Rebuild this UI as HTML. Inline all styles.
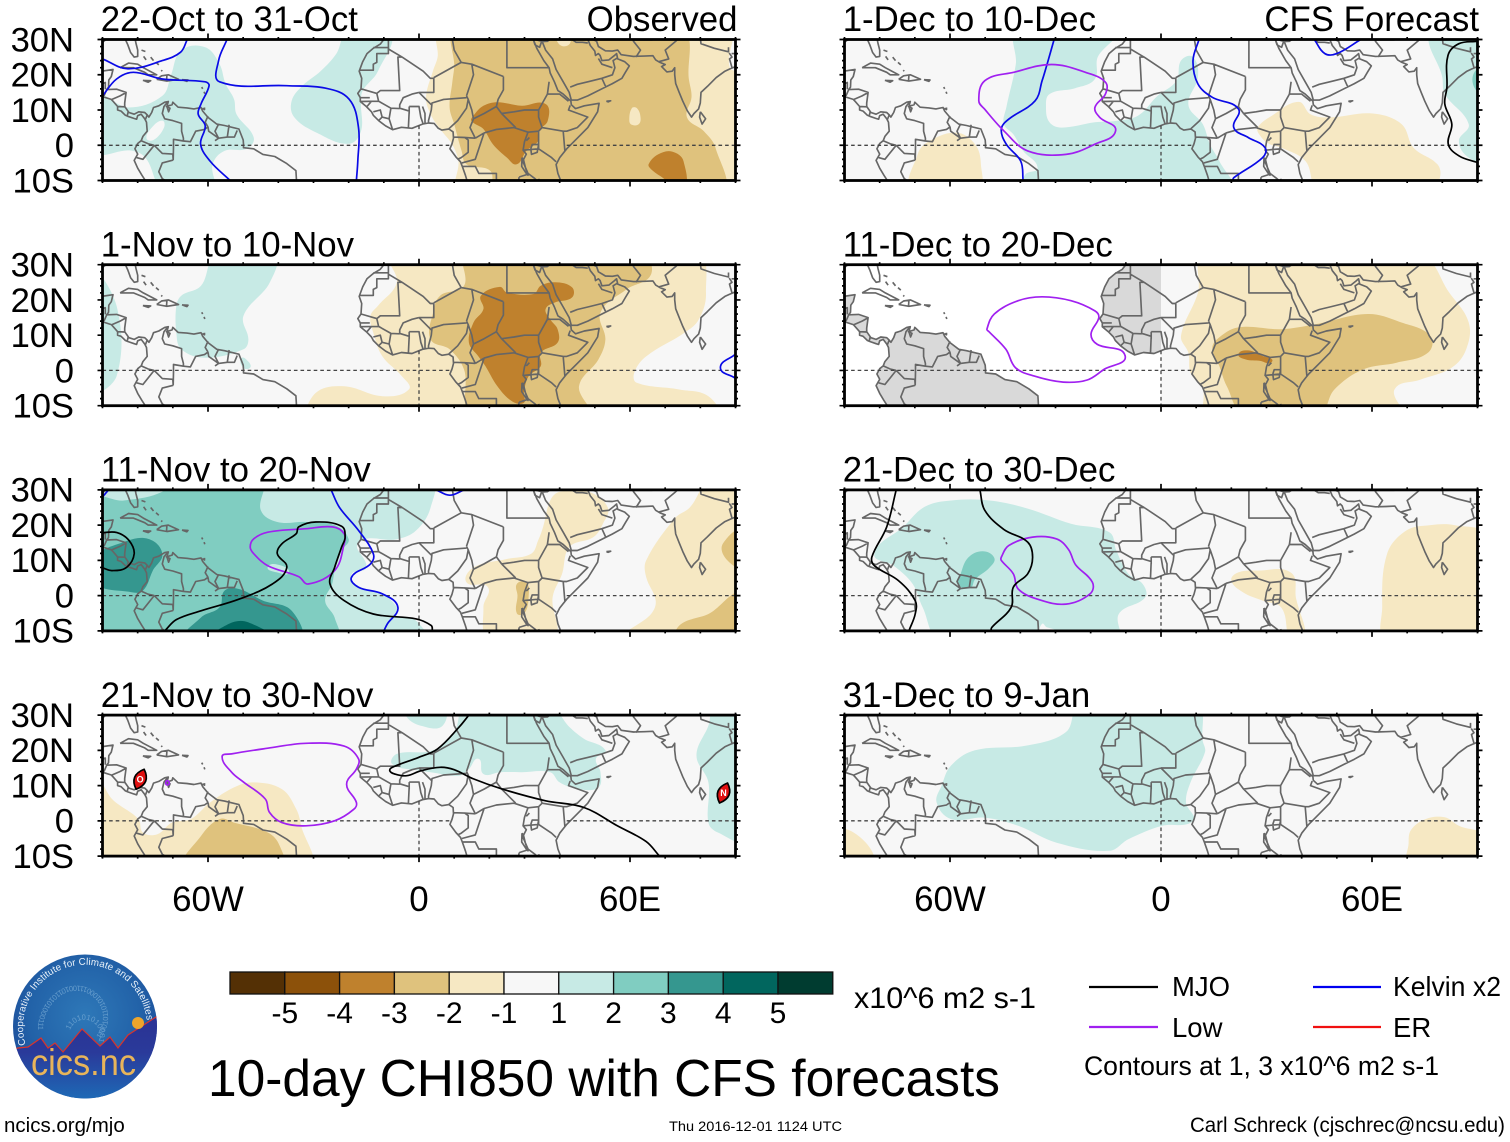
<!DOCTYPE html>
<html lang="en">
<head>
<meta charset="utf-8">
<title>10-day CHI850 with CFS forecasts</title>
<style>
html,body{margin:0;padding:0;background:#fff;}
svg{display:block;font-family:"Liberation Sans",Arial,sans-serif;}
</style>
</head>
<body>
<svg id="figure" xmlns="http://www.w3.org/2000/svg" width="1510" height="1142" viewBox="0 0 1510 1142">
  <rect x="0" y="0" width="1510" height="1142" fill="#ffffff"/>
  <g id="panels"></g>
  <g id="colorbar"></g>
  <text x="854" y="1008" font-size="30" textLength="182" lengthAdjust="spacingAndGlyphs">x10^6 m2 s-1</text>
  <text x="208" y="1096" font-size="51.5" textLength="792" lengthAdjust="spacingAndGlyphs">10-day CHI850 with CFS forecasts</text>
  <g>
    <line x1="1089" y1="987" x2="1158" y2="987" stroke="#000" stroke-width="2.2"/>
    <text x="1172" y="996" font-size="27.5">MJO</text>
    <line x1="1313" y1="987" x2="1381" y2="987" stroke="#0000f0" stroke-width="2.2"/>
    <text x="1393" y="996" font-size="27.5" textLength="108" lengthAdjust="spacingAndGlyphs">Kelvin x2</text>
    <line x1="1089" y1="1027" x2="1158" y2="1027" stroke="#a020f0" stroke-width="2.2"/>
    <text x="1172" y="1037" font-size="27.5">Low</text>
    <line x1="1313" y1="1027" x2="1381" y2="1027" stroke="#f01010" stroke-width="2.2"/>
    <text x="1393" y="1037" font-size="27.5">ER</text>
    <text x="1084" y="1075" font-size="27" textLength="355" lengthAdjust="spacingAndGlyphs">Contours at 1, 3 x10^6 m2 s-1</text>
  </g>
  <text x="4" y="1132" font-size="20.5">ncics.org/mjo</text>
  <text x="669" y="1131" font-size="14" textLength="173" lengthAdjust="spacingAndGlyphs">Thu 2016-12-01 1124 UTC</text>
  <text x="1190" y="1132" font-size="21.2" textLength="315" lengthAdjust="spacingAndGlyphs">Carl Schreck (cjschrec@ncsu.edu)</text>
  <g>
    <defs>
      <radialGradient id="logoSky" cx="50%" cy="42%" r="60%">
        <stop offset="0" stop-color="#2e78b8"/>
        <stop offset="0.65" stop-color="#2262a8"/>
        <stop offset="1" stop-color="#1c4a98"/>
      </radialGradient>
      <linearGradient id="logoBase" x1="0" y1="0" x2="0" y2="1">
        <stop offset="0" stop-color="#2b2f92"/>
        <stop offset="0.45" stop-color="#2a3a9a"/>
        <stop offset="1" stop-color="#1b74bc"/>
      </linearGradient>
      <clipPath id="logoClip"><circle cx="85" cy="1026.5" r="72"/></clipPath>
      <path id="logoRing" d="M 25.7 1044.7 A 62 62 0 1 1 147 1024.3"/>
      <path id="logoSpiral" d="M 70 1030 A 14 14 0 1 1 99 1040 A 32 32 0 0 0 60 990 A 46 46 0 0 0 38 1030"/>
    </defs>
    <circle cx="85" cy="1026.5" r="72" fill="url(#logoSky)"/>
    <text font-size="7.5" fill="#7fb0d8" opacity="0.7"><textPath href="#logoSpiral">1101010100011100101101010001110010110101000111001011</textPath></text>
    <path clip-path="url(#logoClip)" d="M0 1052 L18 1048 L28 1047 L41 1038 L48 1048 L55 1043 L63 1052 L82 1029 L100 1046 L110 1037 L118 1048 L128 1035 L156 1017 L175 1005 L175 1110 L0 1110 Z" fill="url(#logoBase)" stroke="#d8342c" stroke-width="1.2"/>
    <circle cx="138" cy="1023" r="6" fill="#eda52c"/>
    <text font-size="9.8" fill="#eaf2fa"><textPath href="#logoRing" textLength="206" lengthAdjust="spacing">Cooperative Institute for Climate and Satellites</textPath></text>
    <text x="31" y="1075" font-size="37" fill="#e8b45a" textLength="105" lengthAdjust="spacingAndGlyphs">cics.nc</text>
  </g>
</svg>
<script>
// ---------- labels and colour scale ----------
const panelTitles = ["22-Oct to 31-Oct","1-Nov to 10-Nov","11-Nov to 20-Nov","21-Nov to 30-Nov","1-Dec to 10-Dec","11-Dec to 20-Dec","21-Dec to 30-Dec","31-Dec to 9-Jan"];
const latTicks = [30,20,10,0,-10];
const latTickLabels = ["30N","20N","10N","0","10S"];
const lonTicks = [-60,0,60];
const lonTickLabels = ["60W","0","60E"];
const colorbarColors = ["#543005","#8c510a","#bf812d","#dfc27d","#f6e8c3","#f7f7f7","#c7eae5","#80cdc1","#35978f","#01665e","#003c30"];
const colorbarLabels = ["-5","-4","-3","-2","-1","1","2","3","4","5"];

// ---------- shaded CHI850 anomaly areas: [bin, [[lon,lat],...]] ----------
const p1Fills = [
 [-1,[[6,30],[5.3,25],[4,21.2],[2,13.6],[3.3,8.8],[6,4.6],[9.4,0.3],[11.2,-4.5],[11.4,-10],[90,-10],[90,20],[88.4,22],[87.7,30]]],
 [-2,[[10.8,30],[10,22],[9.4,17.4],[8.7,10.7],[10,6],[12.1,-1.6],[13.5,-5.4],[20.3,-7.3],[21.7,-10],[85.7,-10],[84.3,-0.7],[81,4],[76.2,7.9],[77.5,13.6],[76.8,18.3],[74,30]]],
 [-1,[[59.8,7],[60.5,10.5],[62,10.5],[63,8],[62.5,6],[60.5,5.8]]],
 [-1,[[39,30],[42,30],[43,29],[40,28.5]]],
 [-3,[[15.5,8.4],[18.3,11.2],[22.3,12.2],[29.2,11.2],[36,11.7],[36.6,6.9],[33.9,4],[33.9,1.2],[30.5,-1.6],[27.8,-5.4],[25,-3.5],[21,0.3],[18.3,4.6],[14.9,6.9]]],
 [-3,[[65.3,-5.4],[68,-2.6],[72,-1.8],[75.2,-4.5],[74.8,-10],[69.3,-9.2],[66,-6.8]]],
 [1,[[-90,14],[-82.6,10.7],[-73,14],[-70.5,20],[-67.6,26.9],[-60.8,27.8],[-56.7,23],[-55,17.4],[-52.6,13.1],[-51.9,8.8],[-47,2.2],[-49,-1],[-55.3,-1.6],[-58.7,-5.4],[-58.8,-10],[-72.3,-10],[-77.8,-3.5],[-82,-1.5],[-90,-1.5]]],
 [0,[[-77.5,2],[-76,5],[-73,7],[-72.5,5],[-75.5,1.5]]],
 [1,[[-36.2,12.6],[-33,17],[-28,21],[-23.5,26],[-19.9,30],[-8.3,30],[-11.7,21],[-16,15.5],[-16.5,12],[-16.5,4],[-20,0.4],[-29,3.5],[-35.5,8]]]
];
const p2Fills = [
 [-1,[[-8.3,30],[-6.3,25],[-11.7,18.3],[-13.8,15.5],[-13,10.7],[-10.4,4],[-4.9,-1.6],[-2.9,-5.4],[-10.4,-7.3],[-21.3,-4.5],[-29.4,-6.4],[-31,-10],[85,-10],[82.3,-7.3],[74,-5.4],[61.9,-3.5],[61.2,-0.7],[64.6,4],[75.5,10.7],[79.6,14.5],[81.6,22],[78.9,30]]],
 [-2,[[13.5,30],[12.8,24],[6,21.2],[4,16.4],[3.3,8.8],[8.7,6],[12.8,0.3],[15.5,-10],[48.2,-10],[45.5,-4.5],[51,3.1],[53,8.8],[51.6,16.4],[59,23],[66,27.3],[63.2,30]]],
 [-3,[[23,23.7],[25,22.1],[32.6,21.7],[34.6,24],[38.7,25],[43.5,23.6],[43.5,20.7],[38.7,19.3],[36,17.4],[37.3,14.5],[39.4,11.7],[39.4,7.9],[34.6,5],[34.6,1.2],[31.2,-1.6],[29.8,-6.4],[29.8,-9.2],[26.4,-8.7],[22.3,-4.5],[18.9,1.2],[16.9,4],[14.2,7.9],[15.5,13.6],[18.3,17.4],[17.6,21.2]]],
 [1,[[-57.4,30],[-41.4,30],[-42.4,25],[-49.9,15.5],[-48.5,8.8],[-49.9,6],[-60.8,3.6],[-67.6,6],[-69,10.7],[-69,18.3],[-67.6,21.2],[-62,24]]],
 [1,[[-50.5,3.5],[-48.5,2.5],[-48,0.8],[-50,0.8]]],
 [1,[[-90,27],[-86,18.3],[-86,-1.6],[-90,-5.4]]]
];
const p3Fills = [
 [1,[[-90,30],[3.3,30],[3.3,25],[-0.8,18.5],[-6.3,16],[-17.2,15],[-15,8],[-19.2,6],[-17.2,2.4],[-10.4,0.5],[-6.3,-3.3],[-6.3,-5.7],[-0.8,-7.1],[1.9,-10],[-90,-10]]],
 [2,[[-90,27],[-84,27],[-73,29.5],[-71.7,30],[-45,30],[-45,24.2],[-40.3,20.9],[-32,20.9],[-24,20],[-20,16],[-22,12.8],[-24,7],[-24.7,3.3],[-26.7,-1.4],[-24,-6.2],[-23.3,-10],[-86.6,-10],[-90,-5.2]]],
 [1,[[-43,8.2],[-39,8.5],[-37,6.5],[-40,6.5]]],
 [3,[[-90,10.4],[-84,15.2],[-77,16.1],[-73,11.9],[-75.7,7.1],[-78.5,1.4],[-81.9,1],[-90,3.8]]],
 [3,[[-66.9,-10],[-62,-6.2],[-56.7,-3.3],[-55.3,1.4],[-51.2,1.9],[-44.4,-1.4],[-36.2,-4.3],[-34.2,-10]]],
 [4,[[-59.4,-10],[-54,-8],[-48.5,-7.6],[-41.7,-10]]],
 [-1,[[13.5,3.8],[15.5,8],[25,10.4],[31.9,11.9],[33.9,15.7],[35.3,19.5],[37.3,27],[40,29.5],[48.2,29.5],[53.7,25],[52.3,20.4],[49.6,16.6],[42.8,13.8],[40.7,6.2],[38,-0.5],[38,-10],[20.3,-10],[18.3,-3.3],[19.6,2.4]]],
 [-2,[[27.8,3.3],[30.5,3.8],[31.2,0],[30,-5],[27.8,-5],[28,0]]],
 [-1,[[83,30],[90,30],[90,-10],[57.8,-10],[66,-5.2],[67.3,-1.4],[64.6,5.2],[64.6,10],[72.8,22],[77,25]]],
 [-2,[[90,18.5],[86.4,14.7],[87.7,10],[90,8]]],
 [-2,[[90,0.5],[82.3,-5.2],[74,-8.5],[73.4,-10],[90,-10]]]
];
const p4Fills = [
 [1,[[-3.5,30],[-3.5,29.5],[0.5,27],[6.7,27],[6.7,30]]],
 [1,[[13.5,30],[36.6,30],[42.8,26.6],[46.9,23.3],[53,20],[50.3,17.6],[51.6,13.8],[51,9.5],[45.5,9],[40,10.9],[37.3,13.8],[29.2,13.8],[23,13.8],[18.3,13.3],[16.9,17.6],[14.2,14.7],[11.4,12.8],[3.3,13.8],[0.5,14.2],[-7.6,16.1],[-6.3,19],[4,20],[10,25.2]]],
 [1,[[84.3,30],[82.3,27],[78.9,18.5],[82.3,10.9],[82.3,-0.5],[85,-3.3],[90,-5.2],[90,30]]],
 [-1,[[-90,13.8],[-87.3,6.2],[-79.8,0.5],[-78.5,-3.3],[-74.4,-3.8],[-70.3,-0.5],[-64.9,0.5],[-59.4,5.2],[-52.6,9.5],[-47.1,10.9],[-39,9],[-34.9,3.3],[-33.5,-1.4],[-31.5,-10],[-90,-10]]],
 [-2,[[-66.2,-10],[-62,-4.3],[-56.7,0.5],[-52.6,-0.5],[-43,-3.3],[-39.6,-7.1],[-39,-10]]]
];
const p5Fills = [
 [1,[[-40.6,30],[-41.3,23],[-44,10.7],[-44.7,6],[-42,3.1],[-39.2,-1.6],[-35.1,-6.4],[-38.6,-8.3],[-39.5,-10],[20,-10],[16.6,-4.5],[13.9,0.3],[11.9,6],[7.8,11.5],[10.5,19.3],[9.1,25],[5.7,24],[4.4,18.3],[-1,14],[-6.5,8.4],[-12.7,6.9],[-18.8,6.5],[-28.3,5],[-31.7,6.5],[-32.7,10.7],[-31.7,14.5],[-24.3,16.2],[-18.8,18.8],[-18,25],[-12.7,30]]],
 [1,[[77.2,30],[80,19.3],[80.7,14.5],[87.5,6],[84.7,1.2],[87.5,-3.5],[90,-4.5],[90,30]]],
 [2,[[89.3,21],[90,21],[90,15],[89.3,16]]],
 [-1,[[-70.6,-10],[-69.2,-2.6],[-66.5,0.8],[-58.3,3.6],[-52.9,0.3],[-51.2,-5.4],[-52.2,-10]]],
 [-1,[[27.5,5],[31.6,8.4],[39.1,12.3],[42.5,8.8],[48,7.9],[60.2,9],[68.4,6],[71.8,-0.7],[78.6,-5.4],[79.3,-9.2],[76.6,-10],[45.2,-10],[41.1,-4.5],[34.3,-0.7],[30.9,0.3],[28.2,2.7]]]
];
const p6Fills = [
 [-1,[[12.5,30],[10.5,22],[5.7,9.8],[7.8,5],[8.4,-0.7],[11.9,-5.4],[13.2,-10],[68.4,-10],[66.4,-5.4],[73.8,-2.6],[82.7,0.8],[86.8,6],[87.5,13.6],[82,22],[73.2,30]]],
 [-2,[[14.6,6],[15.9,8.8],[22,12.2],[34.3,11.7],[43.9,13.1],[58.9,16],[68.4,13.6],[76.6,9.8],[75.9,5],[67,2.2],[57.5,0.3],[49.3,-5.4],[44.6,-10],[24.1,-10],[18.7,-4.5],[16.6,1.2]]],
 [-3,[[22,4.6],[24.8,5.7],[28.9,4.1],[31.6,3.1],[30.9,2],[28.2,2.7],[24.1,3.1]]]
];
const p7Fills = [
 [1,[[-81.5,11.9],[-73.3,19.5],[-67.2,25.2],[-59.7,27],[-48.8,27],[-37.9,24.7],[-25.6,20.4],[-14.7,18],[-12.7,12.8],[-9.3,6.2],[-5.2,3.3],[-4.5,-0.5],[-12,-5.2],[-12.3,-10],[-32.4,-9],[-33.8,-8],[-36.5,-10],[-62.4,-10],[-67.8,-3.3],[-70.6,3.3],[-76,8.5]]],
 [2,[[-57,6],[-54.9,10.7],[-50.8,12.6],[-47.4,10.7],[-48.8,7.9],[-52.9,4.6],[-54.2,2.2],[-57.6,3.1]]],
 [-1,[[20,4.3],[22,6.6],[27.5,7.1],[37,6.5],[38.4,-0.7],[41.1,-10],[37,-10],[34.3,-3.5],[28.9,-1.4],[23.4,0.9]]],
 [-1,[[64.3,-10],[62.9,-3.3],[64.3,11.9],[69.8,18.5],[76.6,20],[83.4,20],[90,16.6],[90,-10]]]
];
const p8Fills = [
 [1,[[-22.9,30],[-27,25.2],[-37.9,21.4],[-52.9,20],[-59.7,15.7],[-62.4,10],[-63.8,5.2],[-59.7,0.5],[-50.1,0.9],[-40.6,-1.4],[-29.7,-6.2],[-14.7,-8.5],[-9.3,-5.2],[0.3,-1.4],[9.1,0],[7.1,5.2],[8.4,10.9],[12.5,19.5],[11.9,22.6],[9.8,30]]],
 [-1,[[-90,-3],[-84.9,-5.2],[-82.2,-10],[-90,-10]]],
 [-1,[[70.4,-6.4],[71.1,-2.6],[75.2,0.5],[80.7,1],[84.7,-1.4],[90,-4.7],[90,-10],[70.6,-10]]]
];

// ---------- contour lines: [[lon,lat],...] ----------
const p1Kelvin = [
 [[-90,24.5],[-82.8,21.7],[-73,24],[-67.8,26.4],[-65.9,30]],
 [[-90,14],[-86,18.8],[-81.2,20.7],[-73,18.8],[-60.8,18],[-59.7,16.9],[-62,11.7],[-62.8,8.8],[-60.8,5.5],[-62.1,0.3],[-59.4,-4.5],[-53.7,-10]],
 [[-54.6,30],[-57,24],[-56.7,18],[-37.6,16.9],[-26.7,16.2],[-19.9,13.1],[-17.2,5],[-17.4,-4.5],[-17.8,-10]]
];
const p2Kelvin = [[[89.8,4.5],[85.7,0.8],[89.8,-2.1]]];
const p3Kelvin = [
 [[-90,28],[-88.3,30]],
 [[4.9,30],[8.7,28.5],[12.8,30]],
 [[-25,30],[-22.6,25],[-17.2,18.5],[-13,11.9],[-13.8,9],[-19.2,5.2],[-17.2,2.4],[-10.4,0.5],[-6,-3.3],[-9,-8],[-10,-10]]
];
const p5Kelvin = [
 [[-30.4,30],[-32.4,23],[-33.8,18.3],[-35.8,12.6],[-43.3,7.4],[-45.4,4.6],[-44,0.3],[-39.9,-4.5],[-39.2,-10]],
 [[10.8,30],[9.1,24],[10.5,17.4],[14.6,13.6],[22,10.3],[20.7,5],[24.8,2.2],[29.6,-0.7],[28.9,-3.5],[20.7,-9.2],[20.4,-10]],
 [[43.6,30],[46.6,26],[50,26],[56.8,30]]
];
const p3Low = [[[-48,13.8],[-47,16.1],[-43,18],[-32,19],[-24.6,19.5],[-21.3,17.6],[-21.3,14.7],[-24,7.1],[-31.5,3.3],[-34.2,5.4],[-43,8.5],[-47,11.9]]];
const p4Low = [[[-56,18.2],[-53.3,19],[-43,20.6],[-32.2,22],[-21.3,21.2],[-17.2,17.6],[-17.8,14.7],[-20.6,10.4],[-17.8,5.2],[-18.5,3.3],[-24,0],[-32.2,-1.4],[-39,-0.5],[-42.5,2.4],[-43.7,6.2],[-49.9,11],[-53.3,13.8]],
 [[-72,10.5],[-71.7,11.4],[-71,10.8],[-71.5,10.2]]];
const p5Low = [[[-51.8,12.6],[-50.1,18.3],[-41.9,20.7],[-31.1,22.9],[-21.5,20.7],[-15.8,17.9],[-15.8,14.5],[-18.8,10.7],[-17.4,7.9],[-12.9,4.1],[-18.8,0.3],[-27,-2.6],[-37.9,-1.6],[-44.7,4.1],[-50.1,10.2]]];
const p6Low = [[[-49.5,11.7],[-47.4,16],[-40.6,19.8],[-33.8,20.9],[-25.6,19.8],[-18.8,16.9],[-17.7,15],[-19.9,10.3],[-18.1,7.4],[-10.2,4.2],[-16.2,0.3],[-21,-2.7],[-27.8,-3.3],[-36,-1.6],[-41.4,0.8],[-44.1,6],[-48.9,11]]];
const p7Low = [[[-45.4,10.9],[-43.3,14.2],[-36.5,16.6],[-29.7,16.1],[-26.3,13.1],[-24.3,8.8],[-19.5,3.8],[-20.2,0.5],[-27,-2.4],[-35.1,-1],[-40.6,1.9],[-42,6.2],[-45.4,10]]];
const p3Mjo = [
 [[-90,17.9],[-85.9,17.9],[-82.5,15.7],[-81,11.9],[-83.2,8],[-87.3,7.1],[-90,7.9]],
 [[-72.3,-10],[-69,-6.8],[-62,-4.3],[-51.2,-1],[-41.7,3.3],[-37.6,8],[-40.3,11.9],[-39,14.7],[-34.9,17.6],[-34.2,19.5],[-29.4,20.9],[-22,19.7],[-21,16.6],[-22,13.8],[-24,8],[-25.3,3.3],[-21.3,-1.4],[-13,-5.2],[-0.8,-6.6],[3.5,-8.5],[3.8,-10]]
];
const p4Mjo = [
 [[14.2,30],[11.4,26.6],[5.3,20.4],[-0.1,18],[-7.6,15.2],[-8.3,14.2],[-6.9,13.3],[-3.5,12.8],[0.5,14.2],[6,15.2],[10,14.5],[15.5,11.9],[23.7,9],[36,5.7],[46.9,3.8],[56.4,-1.4],[64.6,-5.9],[68.4,-10]]
];
const p5Mjo = [[[90,29.5],[84.7,28.8],[81.6,25.5],[81.3,16.4],[80.7,11.7],[82.7,6],[81.7,0.3],[84.7,-3],[89.9,-4.9]]];
const p7Mjo = [
 [[-75.3,30],[-78,19.5],[-82.2,11],[-81.5,8.5],[-74.7,4.3],[-69.9,-1.4],[-69.9,-5.2],[-71.7,-10]],
 [[-51.5,30],[-50.1,24.2],[-44.7,18.8],[-37.9,15.2],[-36.5,10.9],[-37.9,6.2],[-42,2.4],[-42.6,-3.3],[-48.1,-9],[-48.4,-10]]
];

// ---------- tropical cyclone markers ----------
const stormLon = [-79.3, 86.6];
const stormLat = [11.8, 7.9];
const stormNames = ["O", "N"];

// ---------- base map ----------
const caribCoast = [[-92,18.6],[-90.5,19.5],[-90.3,21],[-87,21.5],[-87.5,19.5],[-88.2,18.5],[-88.3,16.5],[-88.8,15.8],[-86,15.9],[-83.3,15],[-83.7,12],[-83.7,11],[-82.5,9.3],[-81,8.8],[-79.7,9.5],[-78,9.3],[-77.3,8.6],[-76.8,8],[-76,9.3],[-75.5,10.7],[-74,11.2],[-72.3,12.2],[-71.3,12.4],[-71.7,11],[-71.2,9.5],[-70.8,10.5],[-71.8,11],[-70.2,11.5],[-70,12.2],[-68.5,10.8],[-66,10.6],[-64,10.3],[-62,10.7],[-61.5,9.7],[-60,7.9],[-57.5,6],[-55.3,5.6],[-51.2,4.6],[-50,1.5],[-49.9,0.3],[-49.9,-0.7],[-47,-1],[-44.4,-2.6],[-41,-3.2],[-37.6,-5.2],[-35,-7.2],[-34.8,-10.5]];
const pacificCoast = [[-92,14.5],[-90,13.8],[-87.5,13],[-87,12.5],[-85.7,11],[-85.7,10],[-84.7,9.7],[-83.5,8.5],[-82.8,8.2],[-81,7.6],[-80.3,7.4],[-80,8.4],[-79,8.8],[-78,7.5],[-77.5,6.5],[-77.3,4],[-78.5,2.5],[-79,1.3],[-80,0.5],[-80.8,-1],[-80,-2.5],[-81,-4.3],[-80,-6.5],[-78.8,-8.5],[-77.5,-10.5]];
const africaWestCoast = [[-10,30],[-11,28.7],[-13,27.5],[-14.8,26],[-16,23.7],[-17,21],[-16.3,19],[-16.5,16],[-17.4,14.7],[-16.7,13.5],[-16.7,12.4],[-15,11],[-13.5,9.5],[-13,8.5],[-11.5,7],[-9.5,5.5],[-7.5,4.4],[-5,5.1],[-2,4.8],[1,6],[2.7,6.3],[4.3,6.2],[5.5,4.8],[6.5,4.3],[8.5,4.6],[9.7,3.8],[9.8,2],[9.4,0.5],[8.8,-1],[10.5,-3.3],[11.8,-4.7],[12.3,-6],[13.2,-8.5],[13.8,-10.5]];
const africaEastCoast = [[32.5,30],[33.5,27.5],[35.5,24],[37,22],[37.3,20.5],[38.5,18],[39.5,15.5],[41,14.5],[43.2,12.5],[43.3,11.5],[44.5,10.4],[47,11.2],[51.2,11.9],[50.8,9.5],[48,5],[45,2],[42,-1],[40,-3.5],[39,-5.5],[39.5,-8],[40.5,-10.5]];
const arabiaCoast = [[35,29.5],[36,27],[38,24.5],[39,21.5],[41,18],[42.7,15],[43.3,12.8],[45,12.8],[48,14],[52,16],[55,17.5],[57.7,19],[58.7,20.7],[59.8,22.5],[58.5,23.7],[56.5,24.5],[56.2,26],[55.5,25.4],[54,24.2],[52,24],[51.5,25.5],[51,26],[50.2,25.5],[50,26.7],[48.7,28.3],[48,30]];
const asiaCoast = [[48.8,30.3],[50.5,29.5],[51,28],[53,26.8],[55,26.7],[56.5,27],[57.5,25.7],[61,25.2],[64,25.3],[66.5,25.4],[67.3,24.2],[68.5,23.5],[70,22.9],[69,22.3],[70.5,20.8],[72,21],[72.7,22],[72.7,20],[73,17.5],[74,15],[75,12.5],[76.3,9.8],[77.5,8],[78.2,9],[79.5,10.3],[80,12],[80.2,15],[82,16.7],[84.5,19.2],[87,21],[88.5,21.7],[90,22.3],[91,22.5]];
const mapLines = [
 caribCoast, pacificCoast, africaWestCoast, africaEastCoast, arabiaCoast, asiaCoast,
 [[-90,29.2],[-89,30],[-85.5,30.2],[-83.5,30],[-82.8,28.5],[-82,26.3],[-81,25],[-80,25.2],[-80,27],[-80.5,29],[-80.8,30.5]],
 [[-85,22],[-82.6,23.3],[-80,23],[-78.4,22],[-74.6,20],[-77,20],[-78,20.7],[-81.2,22],[-85,22]],
 [[-74.6,18.7],[-73.2,19.7],[-71.3,20],[-68.4,18.7],[-71.7,18.2],[-74.6,18.7]],[[-71.7,19.8],[-71.8,18.2]],
 [[-78.5,18.4],[-76.3,18.3],[-77,17.9],[-78.5,18.4]],
 [[-67.4,18.6],[-65.7,18.5],[-66,18.1],[-67.4,18.6]],
 [[-78.9,27],[-77.8,26.6]],[[-78.3,25.2],[-77.6,24.2]],[[-76.3,25],[-75.5,24]],[[-74.8,23.5],[-74,22.8]],[[-73.3,21.3],[-73,21]],
 [[-61.8,16.5],[-61.5,16]],[[-61.1,15.2],[-60.9,14.6]],[[-61.6,10.5],[-61,10.1],[-61,10.7]],
 [[-92,16],[-91,16],[-91,17.3],[-89.2,17.8],[-89.2,15.9]],[[-88.8,15.8],[-89.5,14.2],[-90,13.8]],[[-87.3,13],[-85,14],[-83.2,15]],[[-85.7,11],[-83.7,10.9]],[[-83,8.2],[-82.7,9.5]],[[-77.3,8.6],[-77.8,7.3]],
 [[-71.5,12.3],[-72.5,11],[-73,9],[-72.3,7.5],[-70,7],[-67.5,6.2],[-67.5,4],[-67,2],[-67,1.2]],
 [[-67,1.2],[-69.8,1.7],[-69.8,-0.5],[-69.9,-4.2]],[[-79,1.3],[-77,0.4],[-75.3,0]],[[-75.3,0],[-73,-2.3],[-70,-2.5],[-69.9,-4.2]],[[-75.3,0],[-78.5,-4],[-80.3,-3.5]],
 [[-69.9,-4.2],[-73,-5],[-74,-7.5],[-73,-9.5],[-70.5,-11]],
 [[-67,1.2],[-65,1],[-63.5,4],[-61,4.5],[-60,5.2]],[[-60,5.2],[-60.8,6.5],[-60,8.3]],[[-60,5.2],[-59.8,4],[-57,2],[-58,1.3]],[[-57,6],[-58,4],[-57,2]],[[-54,5.8],[-54.5,2.3]],[[-57,2],[-54.5,2.3],[-52.5,2.3],[-51.7,4.2]],
 [[-13,27.7],[-8.7,27.7]],[[-8.7,30],[-8.7,27.3],[-4.8,25]],[[-8.7,27.7],[-8.7,26],[-12,26],[-12,23.5],[-13,23],[-13,21.3],[-17,21.3]],
 [[-4.8,25],[-6,25],[-5.5,15.5],[-11,15.5],[-12,14.7],[-16.5,16]],[[-4.8,25],[1.2,21],[3.2,19],[4.2,19]],[[4.2,19.2],[4.2,15],[1,15],[0,15]],[[4.2,19.2],[12,23.5]],
 [[9.5,30],[10,27],[12,23.5],[15,23],[24,19.5]],[[25,30],[25,22],[37,22]],[[24,19.5],[24,15.7],[22.5,13],[22,11],[23.5,9]],[[15,23],[15.5,20],[13.5,14]],
 [[13.5,13.5],[7,13],[3.7,12],[3.5,10],[2.7,7],[2.7,6.3]],[[13.5,14],[14,13],[15,10],[15.5,7.5],[14.5,5],[16,2]],[[8.5,4.7],[11,7],[13.5,10.5],[14,13]],
 [[15.5,7.5],[18.5,9],[22,11]],[[23.5,9],[27,9.5],[30,10],[33,10],[34,10]],[[23.5,9],[27.5,5]],[[36.5,14.5],[34,10],[34,8],[35,5]],
 [[36.5,14.5],[37,18]],[[36.5,14.5],[40,14.5],[42.5,12.5]],[[43,11.3],[42.5,10],[48,8],[45,5],[42,4],[41,4],[35,5]],[[41.5,-1.7],[41,4]],[[35,5],[34,4],[34,1],[34,-1],[37.7,-3.5],[39,-4.7]],
 [[34,4],[31,3.7],[30,1],[29.6,-1.4],[34,-1]],[[29.6,-1.4],[30.5,-2.5],[29.5,-4.5],[31,-8],[33,-9.5],[34.5,-11]],
 [[18.5,3.5],[22,4.5],[27,5],[31,3.7]],[[18.5,3.5],[17,-1],[16,-4],[12.2,-5]],[[16,2],[18.5,3.5]],[[9.8,2.3],[13,2.2],[14,1.5],[14,-2],[12,-3.5],[11,-4]],[[16,2],[13,2.2]],
 [[12.3,-6],[16,-6],[17,-8],[22,-8],[22,-11]],[[22,-11],[24,-11],[24,-11],[28,-12]],[[28.5,-9],[28,-11.5]],[[28.5,-9],[30.7,-8.3]],
 [[29.3,-3.5],[29.2,-6],[30.5,-8],[31,-8.5],[30.3,-6.5],[29.7,-4],[29.3,-3.5]],[[31.8,-1],[32.2,0.2],[34,0.2],[33.6,-2],[32,-2.6],[31.8,-1]],[[30.5,1.3],[31.4,2.2]],[[34,-9.5],[34.5,-11]],
 [[-16.5,16],[-12,14.7],[-11.5,12.5],[-16.7,12.4]],[[-16.7,13.5],[-14,13.5]],[[-11.5,12.5],[-8,10.5],[-5.5,10.4]],[[-13,9.5],[-11,10],[-10.5,8],[-11.5,7]],[[-10.5,8],[-8.5,7.5],[-7.5,4.4]],[[-8.5,7.5],[-8,10.5]],[[-13.5,12.5],[-14.8,11]],
 [[-5.5,10.5],[-2.8,9.7],[-3,5]],[[-2.8,11],[-2.8,9]],[[-2.8,11],[0,11],[0.5,8],[1.2,6]],[[1,11],[1.7,9],[1.7,6.2]],[[-5.5,10.5],[-5.5,11.5],[-4.5,13.5],[-2,14.5],[0,15]],[[0,15],[3.5,11.5]],
 [[33,30],[34.9,29.5]],[[32.5,30],[33,28.5],[34.3,27.8],[34.9,29.5]],[[34.9,29.4],[36.5,29.5],[38,30.5],[37,31.5]],[[48,29],[46.5,29.2],[44.7,29.2],[42,31]],
 [[43,16.5],[45,17.3],[48,18],[52,19],[53.1,16.6]],[[52,19],[55,20],[55.7,22],[55.2,24],[56.3,24.7]],[[51,24.6],[52,23],[55,22]],
 [[68.2,23.7],[71,24.5],[70,27],[73,29.5],[74.5,31]],[[61.7,25],[63,27],[61,29.5],[60.8,30]],[[60.8,29.9],[66.3,29.9],[67,31]],[[80,30.5],[80.2,28.8],[84,27.5],[88,26.5],[88,27.8]],[[88.2,26.2],[89,25],[88.3,24.5],[89,22]],[[88.9,26],[90,26],[92,25]],
 [[80,9.5],[81.5,7.5],[80.5,6],[79.8,8],[80,9.5]],[[53.3,12.5],[54.5,12.6],[53.8,12.3],[53.3,12.5]]
];

// ---------- axis geometry ----------
const PANEL_W = 633, PANEL_H = 141;
function panelLeft(col){ return col === 0 ? 102.5 : 844.5; }
function panelTop(row){ return 39.5 + 225.2 * row; }
function xScale(col, lon){ return panelLeft(col) + (lon + 90) / 180 * PANEL_W; }
function yScale(row, lat){ return panelTop(row) + (30 - lat) / 40 * PANEL_H; }

const NS = "http://www.w3.org/2000/svg";
function make(parent, tag, attrs, text){
  const n = document.createElementNS(NS, tag);
  for (const k in attrs) n.setAttribute(k, attrs[k]);
  if (text !== undefined) n.textContent = text;
  parent.appendChild(n);
  return n;
}
function straight(col, row, pts){
  return pts.map((p,i)=>(i?"L":"M")+xScale(col,p[0]).toFixed(1)+" "+yScale(row,p[1]).toFixed(1)).join(" ");
}
function pushOut(p){
  return [p[0]<=-90?-93:p[0]>=90?93:p[0], p[1]<=-10?-13:p[1]>=30?33:p[1]];
}
function spline(col, row, raw, closed){
  const pts = raw.map(p=>[xScale(col,p[0]),yScale(row,p[1])]);
  const n = pts.length;
  if (n < 3) return straight(col,row,raw);
  const tan = pts.map((p,i)=>{
    const a = closed ? pts[(i-1+n)%n] : pts[Math.max(i-1,0)];
    const b = closed ? pts[(i+1)%n] : pts[Math.min(i+1,n-1)];
    const dx=b[0]-a[0], dy=b[1]-a[1], l=Math.hypot(dx,dy)||1;
    return [dx/l,dy/l];
  });
  let d = "M"+pts[0][0].toFixed(1)+" "+pts[0][1].toFixed(1);
  const segs = closed ? n : n-1;
  for (let i=0;i<segs;i++){
    const j=(i+1)%n, p=pts[i], q=pts[j];
    const len=Math.hypot(q[0]-p[0],q[1]-p[1])*0.36;
    d+=" C"+(p[0]+tan[i][0]*len).toFixed(1)+" "+(p[1]+tan[i][1]*len).toFixed(1)+" "+
       (q[0]-tan[j][0]*len).toFixed(1)+" "+(q[1]-tan[j][1]*len).toFixed(1)+" "+q[0].toFixed(1)+" "+q[1].toFixed(1);
  }
  return d+(closed?" Z":"");
}

const panelFills = [p1Fills,p2Fills,p3Fills,p4Fills,p5Fills,p6Fills,p7Fills,p8Fills];
const panelKelvin = [p1Kelvin,p2Kelvin,p3Kelvin,[],p5Kelvin,[],[],[]];
const panelLow = [[],[],p3Low,p4Low,p5Low,p6Low,p7Low,[]];
const panelMjo = [[],[],p3Mjo,p4Mjo,p5Mjo,[],p7Mjo,[]];
const stormPanel = 3;

const root = document.getElementById("panels");
panelTitles.forEach((title, idx) => {
  const col = idx < 4 ? 0 : 1, row = idx % 4;
  const L = panelLeft(col), T = panelTop(row);
  const g = make(root, "g", {});
  
  

  const defs = make(g, "defs", {});
  const cp = make(defs, "clipPath", {id:"clip"+idx});
  make(cp, "rect", {x:L, y:T, width:PANEL_W, height:PANEL_H});
  const cw = make(defs, "clipPath", {id:"clipWest"+idx});
  make(cw, "rect", {x:L, y:T, width:PANEL_W/2, height:PANEL_H});

  const bg = make(g, "rect", {x:L, y:T, width:PANEL_W, height:PANEL_H, fill:"#f7f7f7"});
  
  

  const body = make(g, "g", {"clip-path":"url(#clip"+idx+")"});

  if (idx === 5) {
    const noData = make(body, "rect", {x:L, y:T, width:PANEL_W/2, height:PANEL_H, fill:"#ffffff"});
    
    
    const land = make(body, "g", {"clip-path":"url(#clipWest"+idx+")", fill:"#d9d9d9"});
    const saRing = caribCoast.concat([[-34.8,-13],[-77.5,-13]], pacificCoast.slice().reverse());
    const sa = make(land, "path", {d:straight(col,row,saRing)+" Z"});
    
    
    const afRing = africaWestCoast.concat([[20,-13],[20,33],[-10,33]]);
    const af = make(land, "path", {d:straight(col,row,afRing)+" Z"});
    
    
  }

  panelFills[idx].forEach(f => {
    const shape = make(body, "path", {d:spline(col,row,f[1].map(pushOut),true), fill:colorbarColors[5+f[0]]});
    
    
  });

  const map = make(body, "path", {d:mapLines.map(l=>straight(col,row,l)).join(" "), fill:"none", stroke:"#666666", "stroke-width":"1.65", "stroke-linejoin":"round"});
  
  

  const eq = make(body, "path", {d:straight(col,row,[[-90,0],[9.5,0]])+" "+straight(col,row,[[42,0],[90,0]])+" "+straight(col,row,[[0,5.6],[0,-10]]), fill:"none", stroke:"#444", "stroke-width":"1.3", "stroke-dasharray":"3.6 3"});
  
  

  panelKelvin[idx].forEach(line => {
    const c = make(body, "path", {d:spline(col,row,line,false), fill:"none", stroke:"#0a0ae6", "stroke-width":"1.7"});
    
    
  });
  panelLow[idx].forEach(line => {
    const c = make(body, "path", {d:spline(col,row,line,true), fill:"none", stroke:"#a020f0", "stroke-width":"1.7"});
    
    
  });
  panelMjo[idx].forEach(line => {
    const c = make(body, "path", {d:spline(col,row,line,false), fill:"none", stroke:"#000000", "stroke-width":"1.7"});
    
    
  });

  if (idx === stormPanel) {
    stormNames.forEach((nm, i) => {
      const sx = xScale(col, stormLon[i]), sy = yScale(row, stormLat[i]);
      const s = make(g, "g", {});
      
      
      make(s, "path", {d:"M"+(sx+4)+" "+(sy-10)+" Q"+(sx+7.5)+" "+(sy-3)+" "+(sx+5.5)+" "+(sy+2)+" Q"+(sx+3.5)+" "+(sy+7)+" "+(sx-4)+" "+(sy+10)+" Q"+(sx-7.5)+" "+(sy+3)+" "+(sx-5.5)+" "+(sy-2)+" Q"+(sx-3.5)+" "+(sy-7)+" "+(sx+4)+" "+(sy-10)+" Z", fill:"#e01010", stroke:"#000", "stroke-width":"1.7", "stroke-linejoin":"round"});
      make(s, "text", {x:sx, y:sy+3.2, "font-size":"9", "font-weight":"bold", "text-anchor":"middle", fill:"#ffffff"}, nm);
    });
  }

  // frame and ticks
  let tickD = "";
  for (let lon=-90; lon<=90; lon+=10) {
    const x = xScale(col,lon), major = lon % 60 === 0, len = major ? 6 : 2.5;
    tickD += "M"+x+" "+(T-len)+" V"+T+" M"+x+" "+(T+PANEL_H)+" V"+(T+PANEL_H+len)+" ";
  }
  for (let lat=-10; lat<=30; lat+=2) {
    const y = yScale(row,lat), major = lat % 10 === 0, len = major ? 5 : 2.5;
    tickD += "M"+(L-len)+" "+y+" H"+L+" M"+(L+PANEL_W)+" "+y+" H"+(L+PANEL_W+len)+" ";
  }
  const ticks = make(g, "path", {d:tickD, stroke:"#000", "stroke-width":"1.7", fill:"none"});
  
  
  const frame = make(g, "rect", {x:L, y:T, width:PANEL_W, height:PANEL_H, fill:"none", stroke:"#000", "stroke-width":"2.8"});
  
  

  const tt = make(g, "text", {x:L-1.8, y:T-8.3, "font-size":"34.8"}, title);
  
  

  if (col === 0) {
    latTicks.forEach((lat, i) => {
      const t = make(g, "text", {x:74, y:yScale(row,lat)+11.8, "font-size":"34.6", "text-anchor":"end"}, latTickLabels[i]);
      
      
    });
  }
  if (row === 3) {
    lonTicks.forEach((lon, i) => {
      const t = make(g, "text", {x:xScale(col,lon), y:911, "font-size":"34.9", "text-anchor":"middle"}, lonTickLabels[i]);
      
      
    });
  }
});

const obsLabel = make(root, "text", {x:737.5, y:31, "font-size":"34.8", "text-anchor":"end"}, "Observed");


const fcstLabel = make(root, "text", {x:1479, y:31, "font-size":"34.8", "text-anchor":"end"}, "CFS Forecast");



// colorbar
const cb = document.getElementById("colorbar");
const CB_X = 230, CB_Y = 972, CB_STEP = 54.8, CB_H = 22;
colorbarColors.forEach((c, i) => {
  const box = make(cb, "rect", {x:CB_X+i*CB_STEP, y:CB_Y, width:CB_STEP, height:CB_H, fill:c, stroke:"#111", "stroke-width":"1.3"});
  
  
});
colorbarLabels.forEach((lab, i) => {
  const t = make(cb, "text", {x:CB_X+(i+1)*CB_STEP, y:1023, "font-size":"30", "text-anchor":"middle"}, lab);
  
  
});
</script>
</body>
</html>
